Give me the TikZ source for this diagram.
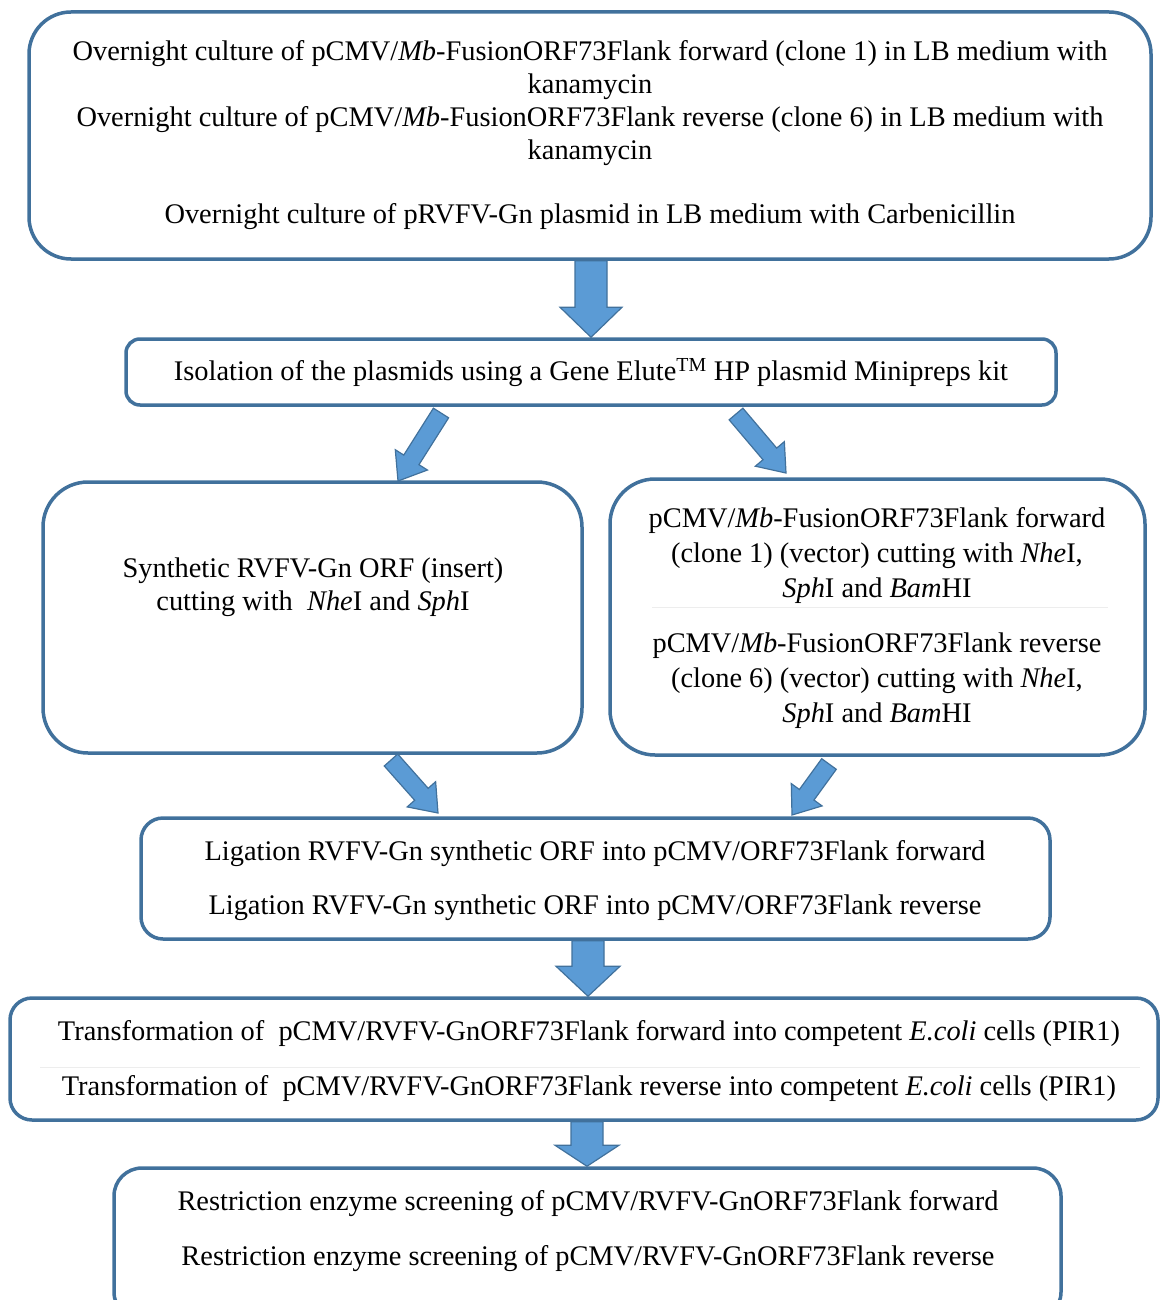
\documentclass[tikz,border=0pt]{standalone}
\usepackage{fontspec}
\setmainfont{Liberation Serif}
\usetikzlibrary{calc}
\definecolor{frameblue}{HTML}{41719C}
\definecolor{arrowfill}{HTML}{5B9BD5}
\tikzset{
  stepbox/.style={draw=frameblue, line width=3.5pt, fill=white, inner sep=0pt},
  steptext/.style={align=center, inner sep=0pt, font=\fontsize{28.4}{33}\selectfont},
  blockarrowstyle/.style={fill=arrowfill, draw=frameblue, line width=1.2pt, line join=miter},
  rowrule/.style={draw=black!7, line width=1pt},
}
% block arrow: #1 tail, #2 tip, #3 half shaft width, #4 half head width, #5 head length
\newcommand\blockarrow[5]{%
  \coordinate (bhbase) at ($(#2)!#5!(#1)$);
  \draw[blockarrowstyle] ($(#1)!#3!90:(#2)$) -- ($(bhbase)!#3!90:(#2)$)
    -- ($(bhbase)!#4!90:(#2)$) -- (#2) -- ($(bhbase)!#4!-90:(#2)$)
    -- ($(bhbase)!#3!-90:(#2)$) -- ($(#1)!#3!-90:(#2)$) -- cycle;
}
\begin{document}
\begin{tikzpicture}[x=1pt,y=-1pt]
\useasboundingbox (0,0) rectangle (1161,1300);

% process boxes
\node[stepbox, minimum width=1122pt, minimum height=247pt, rounded corners=42pt] (b1) at (590,135.5) {};
\node[stepbox, minimum width=930pt, minimum height=66pt, rounded corners=14pt] (b2) at (591,372) {};
\node[stepbox, minimum width=539pt, minimum height=271pt, rounded corners=45pt] (b3) at (312.5,617.5) {};
\node[stepbox, minimum width=535pt, minimum height=276pt, rounded corners=45pt] (b4) at (877.5,617) {};
\node[stepbox, minimum width=909pt, minimum height=121pt, rounded corners=22pt] (b5) at (595.5,878.5) {};
\node[stepbox, minimum width=1148pt, minimum height=122pt, rounded corners=22pt] (b6) at (584,1059) {};
\node[stepbox, minimum width=947pt, minimum height=152pt, rounded corners=28pt] (b7) at (587.5,1244) {};

% faint row rules inside the boxes
\coordinate (r4a) at (652,607);  \coordinate (r4b) at (1108,607);
\coordinate (r6a) at (40,1067);  \coordinate (r6b) at (1140,1067);
\draw[rowrule] (r4a) -- (r4b);
\draw[rowrule] (r6a) -- (r6b);

% texts
\node[steptext] (t1) at (590,135) {%
  Overnight culture of pCMV/\textit{Mb}-FusionORF73Flank forward (clone 1) in LB medium with\\
  kanamycin\\
  Overnight culture of pCMV/\textit{Mb}-FusionORF73Flank reverse (clone 6) in LB medium with\\
  kanamycin\\[31pt]
  Overnight culture of pRVFV-Gn plasmid in LB medium with Carbenicillin};
\node[steptext] (t2) at (591,373) {Isolation of the plasmids using a Gene Elute\textsuperscript{TM} HP plasmid Minipreps kit};
\node[steptext] (t3) at (313,587.5) {Synthetic RVFV-Gn ORF (insert)\\cutting with\ \ \textit{Nhe}I and \textit{Sph}I};
\node[steptext, font=\fontsize{28.4}{35}\selectfont] (t4) at (877,618.5) {%
  pCMV/\textit{Mb}-FusionORF73Flank forward\\
  (clone 1) (vector) cutting with \textit{Nhe}I,\\
  \textit{Sph}I and \textit{Bam}HI\\[20pt]
  pCMV/\textit{Mb}-FusionORF73Flank reverse\\
  (clone 6) (vector) cutting with \textit{Nhe}I,\\
  \textit{Sph}I and \textit{Bam}HI};
\node[steptext, font=\fontsize{28.4}{54}\selectfont] (t5) at (595,881) {%
  Ligation RVFV-Gn synthetic ORF into pCMV/ORF73Flank forward\\
  Ligation RVFV-Gn synthetic ORF into pCMV/ORF73Flank reverse};
\node[steptext, font=\fontsize{28.4}{55}\selectfont] (t6) at (589,1061.5) {%
  Transformation of\ \ pCMV/RVFV-GnORF73Flank forward into competent \textit{E.coli} cells (PIR1)\\
  Transformation of\ \ pCMV/RVFV-GnORF73Flank reverse into competent \textit{E.coli} cells (PIR1)};
\node[steptext, font=\fontsize{28.4}{55}\selectfont] (t7) at (588,1231.5) {%
  Restriction enzyme screening of pCMV/RVFV-GnORF73Flank forward\\
  Restriction enzyme screening of pCMV/RVFV-GnORF73Flank reverse};

% arrow end points
\coordinate (a1s) at (591,0 |- b1.south);  \coordinate (a1e) at (591,0 |- b2.north);
\coordinate (a2s) at (441,413);       \coordinate (a2e) at (398,481);
\coordinate (a3s) at (736,414);       \coordinate (a3e) at (786,473);
\coordinate (a4s) at (391,760);       \coordinate (a4e) at (438,813);
\coordinate (a5s) at (829,764);       \coordinate (a5e) at (792,815);
\coordinate (a6s) at (588,0 |- b5.south);  \coordinate (a6e) at (588,0 |- b6.north);
\coordinate (a7s) at (587,0 |- b6.south);  \coordinate (a7e) at (587,0 |- b7.north);

% block arrows
\blockarrow{a1s}{a1e}{16pt}{31pt}{30pt}
\blockarrow{a2s}{a2e}{9pt}{19pt}{25pt}
\blockarrow{a3s}{a3e}{9pt}{19pt}{25pt}
\blockarrow{a4s}{a4e}{9pt}{19pt}{25pt}
\blockarrow{a5s}{a5e}{9pt}{19pt}{25pt}
\blockarrow{a6s}{a6e}{16pt}{32pt}{30pt}
\blockarrow{a7s}{a7e}{16pt}{32pt}{21pt}
\end{tikzpicture}
\end{document}
